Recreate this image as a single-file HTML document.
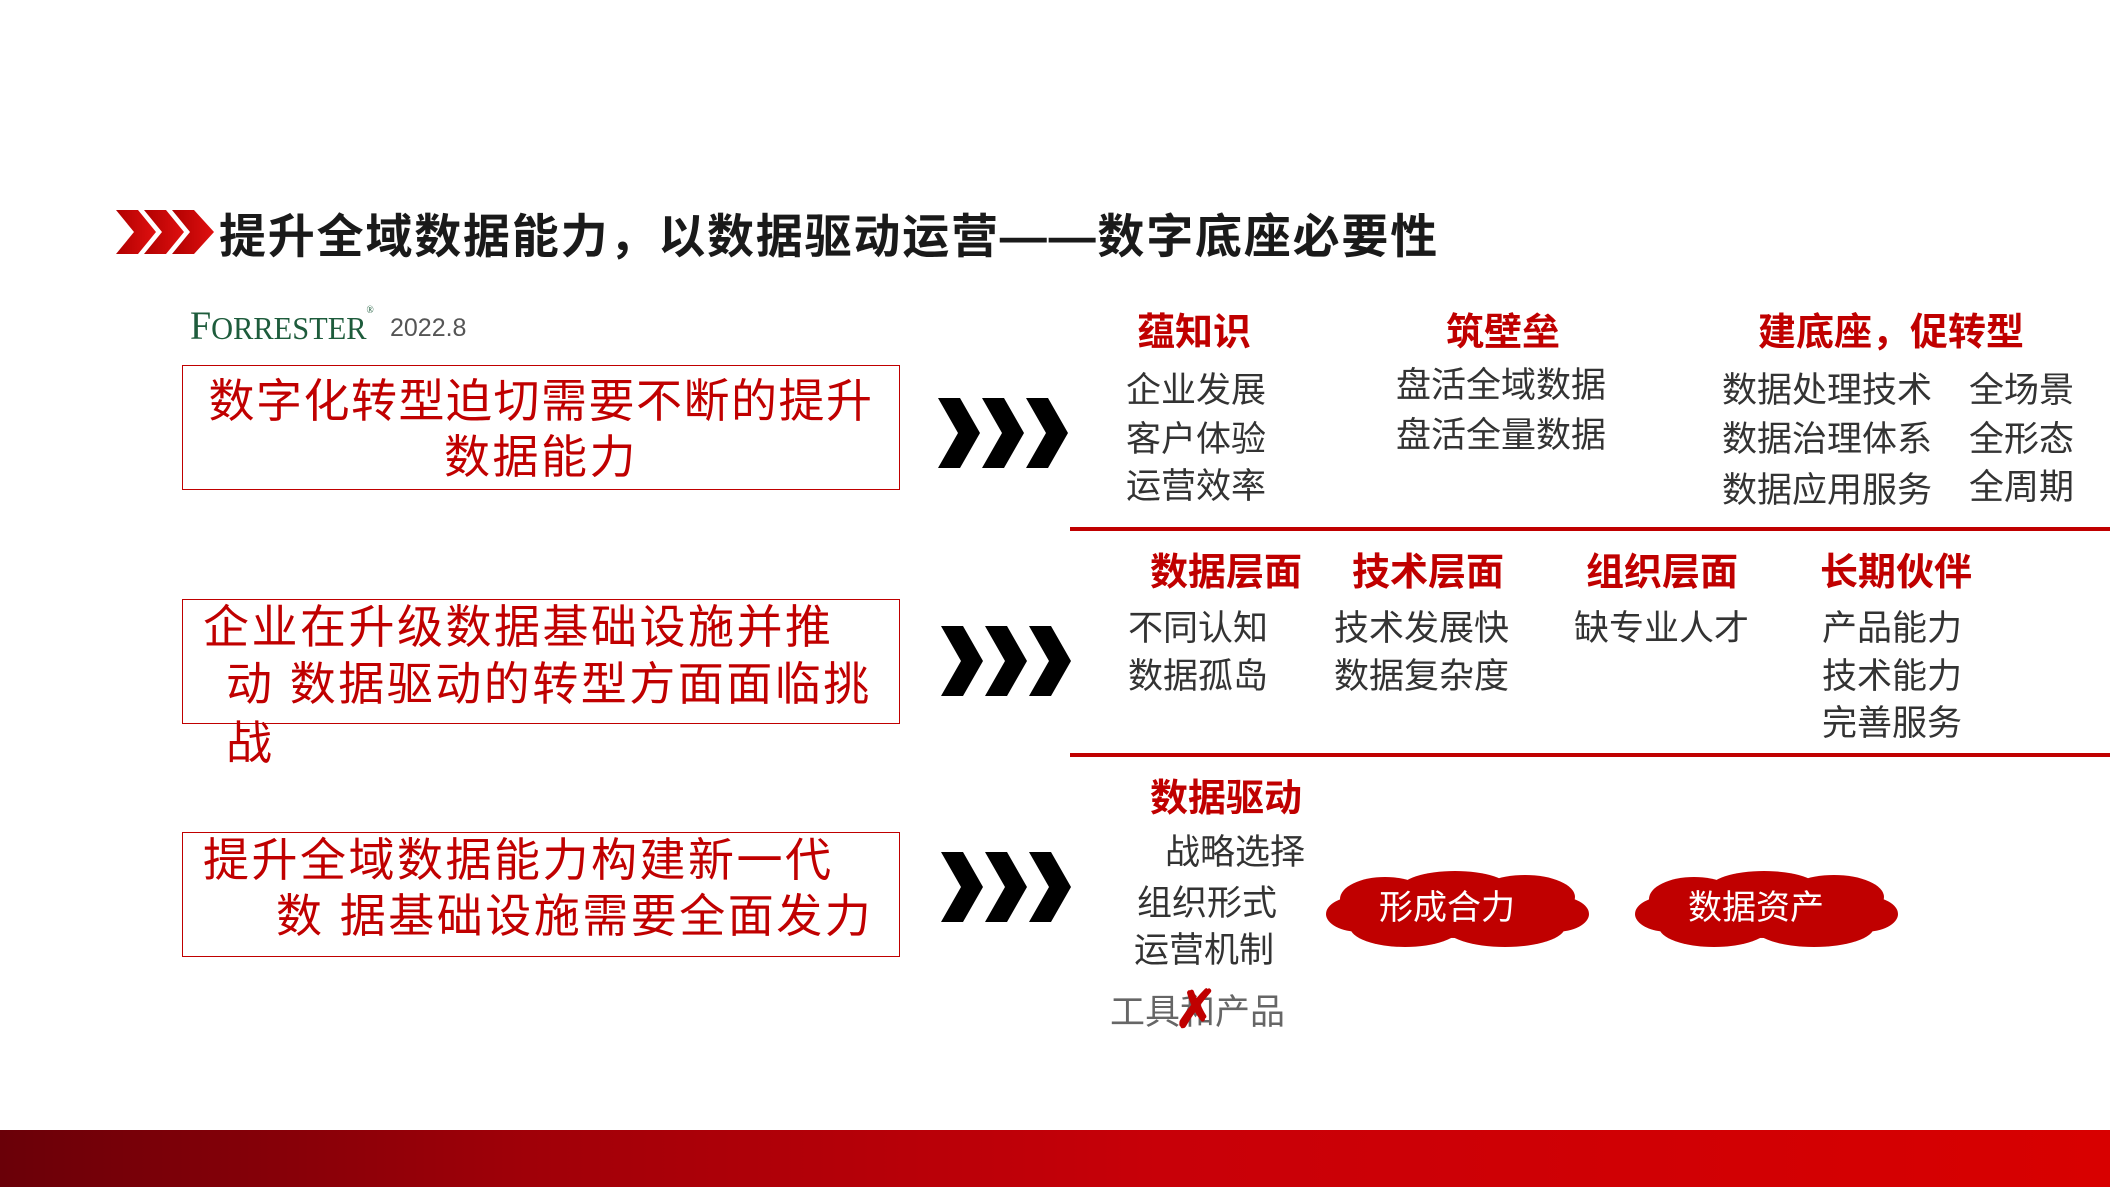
<!DOCTYPE html>
<html><head><meta charset="utf-8"><style>
body{margin:0;width:2110px;height:1187px;position:relative;background:#fff;overflow:hidden;font-family:"Liberation Sans","Noto Sans CJK SC",sans-serif}
.a{position:absolute;line-height:1;white-space:nowrap}
.h{color:#c00000;font-weight:bold;font-size:38px}
.i{color:#333;font-size:35px}
.box{position:absolute;left:182px;width:718px;height:125px;border:1.5px solid #c00000;box-sizing:border-box}
.bt{color:#c00000;font-size:46px;letter-spacing:2.5px}
.rl{position:absolute;left:1070px;width:1040px;height:4px;background:#c00000}
</style></head><body>
<svg class="a" style="left:116px;top:210px" width="100" height="44" viewBox="0 0 100 44">
<defs><linearGradient id="g" x1="0" x2="1"><stop offset="0" stop-color="#b00000"/><stop offset="1" stop-color="#e01010"/></linearGradient></defs>
<polygon points="0,0 22,0 40,22 22,44 0,44 18,22" fill="url(#g)"/>
<polygon points="28,0 50,0 68,22 50,44 28,44 46,22" fill="url(#g)"/>
<polygon points="56,0 78,0 98,22 78,44 56,44 74,22" fill="url(#g)"/>
</svg>
<div class="a" style="left:219px;top:213px;font-size:47px;font-weight:bold;color:#1a1a1a;letter-spacing:1.8px">提升全域数据能力，以数据驱动运营——数字底座必要性</div>
<div class="a" style="left:190px;top:306px;font-family:'Liberation Serif',serif;font-size:40px;color:#1e5c3c;transform:scaleX(0.95);transform-origin:left">F<span style="font-size:32px">ORRESTER</span><span style="font-size:10px;vertical-align:top">®</span></div>
<div class="a" style="left:390px;top:316px;font-size:25px;color:#555">2022.8</div>

<div class="box" style="top:365px"></div>
<div class="a bt" style="left:182px;width:718px;text-align:center;top:378px;letter-spacing:1.5px">数字化转型迫切需要不断的提升</div>
<div class="a bt" style="left:182px;width:718px;text-align:center;top:434px">数据能力</div>
<div class="box" style="top:599px"></div>
<div class="a bt" style="left:203px;top:604px">企业在升级数据基础设施并推</div>
<div class="a bt" style="left:226px;top:661px">动 数据驱动的转型方面面临挑</div>
<div class="a bt" style="left:226px;top:720px">战</div>
<div class="box" style="top:832px"></div>
<div class="a bt" style="left:203px;top:837px">提升全域数据能力构建新一代</div>
<div class="a bt" style="left:276px;top:893px">数 据基础设施需要全面发力</div>

<svg class="a" style="left:938px;top:398px" width="130" height="70" viewBox="0 0 130 70"><g fill="#000"><polygon points="0,0 22,0 42,35 22,70 0,70 20,35"/><polygon points="44,0 66,0 86,35 66,70 44,70 64,35"/><polygon points="88,0 110,0 130,35 110,70 88,70 108,35"/></g></svg>
<svg class="a" style="left:941px;top:626px" width="130" height="70" viewBox="0 0 130 70"><g fill="#000"><polygon points="0,0 22,0 42,35 22,70 0,70 20,35"/><polygon points="44,0 66,0 86,35 66,70 44,70 64,35"/><polygon points="88,0 110,0 130,35 110,70 88,70 108,35"/></g></svg>
<svg class="a" style="left:941px;top:852px" width="130" height="70" viewBox="0 0 130 70"><g fill="#000"><polygon points="0,0 22,0 42,35 22,70 0,70 20,35"/><polygon points="44,0 66,0 86,35 66,70 44,70 64,35"/><polygon points="88,0 110,0 130,35 110,70 88,70 108,35"/></g></svg>

<div class="rl" style="top:527px"></div>
<div class="rl" style="top:753px"></div>

<div class="a h" style="left:1094px;width:200px;text-align:center;top:314px">蕴知识</div>
<div class="a h" style="left:1403px;width:200px;text-align:center;top:314px">筑壁垒</div>
<div class="a h" style="left:1741px;width:300px;text-align:center;top:314px">建底座，促转型</div>
<div class="a i" style="left:1126px;top:373px">企业发展</div>
<div class="a i" style="left:1126px;top:422px">客户体验</div>
<div class="a i" style="left:1126px;top:469px">运营效率</div>
<div class="a i" style="left:1396px;top:368px">盘活全域数据</div>
<div class="a i" style="left:1396px;top:418px">盘活全量数据</div>
<div class="a i" style="left:1722px;top:373px">数据处理技术</div>
<div class="a i" style="left:1722px;top:422px">数据治理体系</div>
<div class="a i" style="left:1722px;top:473px">数据应用服务</div>
<div class="a i" style="left:1969px;top:373px">全场景</div>
<div class="a i" style="left:1969px;top:422px">全形态</div>
<div class="a i" style="left:1969px;top:470px">全周期</div>

<div class="a h" style="left:1126px;width:200px;text-align:center;top:554px">数据层面</div>
<div class="a h" style="left:1328px;width:200px;text-align:center;top:554px">技术层面</div>
<div class="a h" style="left:1562px;width:200px;text-align:center;top:554px">组织层面</div>
<div class="a h" style="left:1796px;width:200px;text-align:center;top:554px">长期伙伴</div>
<div class="a i" style="left:1128px;top:611px">不同认知</div>
<div class="a i" style="left:1128px;top:659px">数据孤岛</div>
<div class="a i" style="left:1334px;top:611px">技术发展快</div>
<div class="a i" style="left:1334px;top:659px">数据复杂度</div>
<div class="a i" style="left:1574px;top:611px">缺专业人才</div>
<div class="a i" style="left:1822px;top:611px">产品能力</div>
<div class="a i" style="left:1822px;top:659px">技术能力</div>
<div class="a i" style="left:1822px;top:706px">完善服务</div>

<div class="a h" style="left:1126px;width:200px;text-align:center;top:780px">数据驱动</div>
<div class="a i" style="left:1165px;top:835px">战略选择</div>
<div class="a i" style="left:1137px;top:886px">组织形式</div>
<div class="a i" style="left:1134px;top:933px">运营机制</div>
<div class="a i" style="left:1110px;top:995px;color:#666">工具和产品</div>
<div class="a" style="left:1174px;top:984px;font-size:52px;font-weight:bold;color:#c00000">✗</div>

<svg class="a" style="left:1325px;top:869px" width="265" height="82" viewBox="0 0 265 82"><g fill="#c00000">
<ellipse cx="132" cy="41" rx="115" ry="28"/><ellipse cx="60" cy="30" rx="45" ry="22"/><ellipse cx="130" cy="20" rx="55" ry="18"/><ellipse cx="200" cy="28" rx="50" ry="22"/><ellipse cx="35" cy="45" rx="34" ry="18"/><ellipse cx="230" cy="45" rx="34" ry="18"/><ellipse cx="80" cy="58" rx="55" ry="20"/><ellipse cx="180" cy="58" rx="60" ry="20"/></g>
<text x="122" y="50" text-anchor="middle" fill="#fff" font-size="34" font-family="Liberation Sans,Noto Sans CJK SC,sans-serif">形成合力</text></svg>
<svg class="a" style="left:1634px;top:869px" width="265" height="82" viewBox="0 0 265 82"><g fill="#c00000">
<ellipse cx="132" cy="41" rx="115" ry="28"/><ellipse cx="60" cy="30" rx="45" ry="22"/><ellipse cx="130" cy="20" rx="55" ry="18"/><ellipse cx="200" cy="28" rx="50" ry="22"/><ellipse cx="35" cy="45" rx="34" ry="18"/><ellipse cx="230" cy="45" rx="34" ry="18"/><ellipse cx="80" cy="58" rx="55" ry="20"/><ellipse cx="180" cy="58" rx="60" ry="20"/></g>
<text x="122" y="50" text-anchor="middle" fill="#fff" font-size="34" font-family="Liberation Sans,Noto Sans CJK SC,sans-serif">数据资产</text></svg>

<div class="a" style="left:0;top:1130px;width:2110px;height:57px;background:linear-gradient(90deg,#6a0008 0%,#a00008 25%,#c80008 55%,#d80000 100%)"></div>
</body></html>
